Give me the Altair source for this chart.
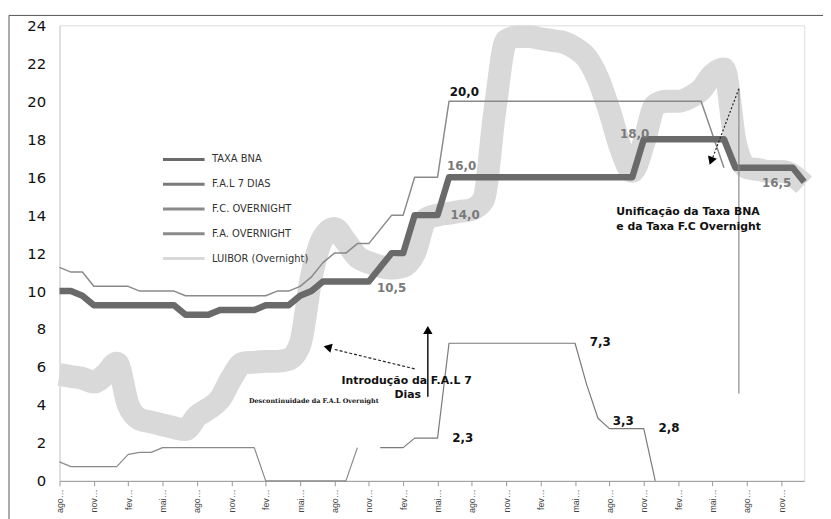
import altair as alt
import pandas as pd

# ---------------- data (monthly, index 0 = ago) ----------------
month_idx = list(range(66))

bna = [10.0, 10.0, 9.75, 9.25, 9.25, 9.25, 9.25, 9.25, 9.25, 9.25,
       9.25, 8.75, 8.75, 8.75, 9.0, 9.0, 9.0, 9.0, 9.25, 9.25,
       9.25, 9.75, 10.0, 10.5, 10.5, 10.5, 10.5, 10.5, 11.25, 12.0,
       12.0, 14.0, 14.0, 14.0, 16.0, 16.0, 16.0, 16.0, 16.0, 16.0,
       16.0, 16.0, 16.0, 16.0, 16.0, 16.0, 16.0, 16.0, 16.0, 16.0,
       16.0, 18.0, 18.0, 18.0, 18.0, 18.0, 18.0, 18.0, 18.0, 16.5,
       16.5, 16.5, 16.5, 16.5, 16.5, 15.75]

fc_idx = list(range(57)) + [58]
fc = [11.25, 11.0, 11.0, 10.25, 10.25, 10.25, 10.25, 10.0, 10.0, 10.0,
      10.0, 9.75, 9.75, 9.75, 9.75, 9.75, 9.75, 9.75, 9.75, 10.0,
      10.0, 10.25, 10.75, 11.5, 12.0, 12.0, 12.5, 12.5, 13.25, 14.0,
      14.0, 16.0, 16.0, 16.0, 20.0, 20.0, 20.0, 20.0, 20.0, 20.0,
      20.0, 20.0, 20.0, 20.0, 20.0, 20.0, 20.0, 20.0, 20.0, 20.0,
      20.0, 20.0, 20.0, 20.0, 20.0, 20.0, 20.0, 16.5]

fa_idx = list(range(27))
fa = [1.0, 0.75, 0.75, 0.75, 0.75, 0.75, 1.4, 1.5, 1.5, 1.75,
      1.75, 1.75, 1.75, 1.75, 1.75, 1.75, 1.75, 1.75, 0.0, 0.0,
      0.0, 0.0, 0.0, 0.0, 0.0, 0.0, 1.75]

fal_idx = list(range(28, 53))
fal = [1.75, 1.75, 1.75, 2.25, 2.25, 2.25, 7.25, 7.25, 7.25, 7.25,
       7.25, 7.25, 7.25, 7.25, 7.25, 7.25, 7.25, 7.25, 5.1, 3.3,
       2.75, 2.75, 2.75, 2.75, 0.0]

luibor = [5.6, 5.5, 5.4, 5.2, 5.6, 6.2, 4.0, 3.25, 3.1, 2.95,
          2.8, 2.7, 3.4, 3.8, 4.3, 5.4, 6.2, 6.25, 6.3, 6.3,
          6.4, 7.2, 10.8, 12.8, 13.3, 12.6, 11.8, 11.5, 11.3, 11.2,
          11.3, 12.0, 13.8, 14.0, 14.1, 14.2, 14.3, 14.8, 19.5, 23.2,
          23.4, 23.4, 23.3, 23.2, 23.1, 22.8, 22.3, 21.2, 19.5, 17.5,
          16.3, 17.8, 19.8, 20.0, 20.0, 20.2, 20.6, 21.4, 21.7, 17.8,
          16.5, 16.4, 16.3, 16.3, 16.1, 15.6]

series_names = ["TAXA BNA", "F.A.L 7 DIAS", "F.C. OVERNIGHT", "F.A. OVERNIGHT", "LUIBOR (Overnight)"]
series_colors = ["#6a6a6a", "#7a7a7a", "#8a8a8a", "#8a8a8a", "#d9d9d9"]

tick_months = ["ago", "nov", "fev", "mai"]

# annotations
grey_lbl_text = ["16,0", "14,0", "10,5", "18,0", "16,5"]
grey_lbl_x = [35.1, 35.4, 29.0, 50.2, 62.6]
grey_lbl_y = [16.6, 14.0, 10.17, 18.26, 15.7]

black_lbl_text = ["20,0", "7,3", "3,3", "2,8", "2,3"]
black_lbl_x = [35.35, 47.2, 49.2, 53.2, 35.2]
black_lbl_y = [20.5, 7.3, 3.13, 2.76, 2.24]

intro_text = ["Introdução da F.A.L 7", "Dias"]
intro_x = [30.3, 30.4]
intro_y = [5.27, 4.54]

unif_text = ["Unificação da Taxa BNA", "e da Taxa F.C Overnight"]
unif_x = [48.6, 48.6]
unif_y = [14.14, 13.4]

disc_text = ["Descontinuidade da F.A.L Overnight"]
disc_x = [22.2]
disc_y = [4.23]

# arrows: solid vertical, dashed, grey vertical, dotted
arrow_x = [32.15, 31.0, 59.3, 59.3]
arrow_y = [4.43, 5.9, 4.6, 20.66]
arrow_x2 = [32.15, 23.9, 59.3, 57.0]
arrow_y2 = [7.9, 6.94, 20.66, 17.0]
head_x = [32.15, 23.4, 56.87]
head_y = [7.95, 7.04, 16.85]
head_angle = [0, 284, 200]

# ---------------- build tables ----------------
rows = []
for i, v in zip(month_idx, luibor):
    rows.append({"idx": i, "val": v, "serie": "LUIBOR (Overnight)"})
for i, v in zip(fc_idx, fc):
    rows.append({"idx": i, "val": v, "serie": "F.C. OVERNIGHT"})
for i, v in zip(fa_idx, fa):
    rows.append({"idx": i, "val": v, "serie": "F.A. OVERNIGHT"})
for i, v in zip(fal_idx, fal):
    rows.append({"idx": i, "val": v, "serie": "F.A.L 7 DIAS"})
for i, v in zip(month_idx, bna):
    rows.append({"idx": i, "val": v, "serie": "TAXA BNA"})
df = pd.DataFrame(rows)

xscale = alt.Scale(domain=[0, 65], nice=False, zero=False)
yscale = alt.Scale(domain=[0, 24], nice=False)
label_expr = "[" + ",".join("'%s'" % m for m in tick_months) + "][(datum.value/3)%4] + '…'"
xaxis = alt.Axis(values=list(range(0, 64, 3)), labelExpr=label_expr, labelAngle=270,
                 labelAlign="right", labelBaseline="middle", labelFontSize=9,
                 labelFont="Liberation Sans", labelColor="#444", labelPadding=3,
                 tickColor="#999", tickSize=5, domainColor="#999", grid=False, title=None)
yaxis = alt.Axis(values=list(range(0, 25, 2)), labelFontSize=15, labelFont="DejaVu Sans",
                 labelColor="#111", ticks=False, labelPadding=14, domainColor="#d0d0d0",
                 grid=False, title=None)


def X(f):
    return alt.X(f, scale=xscale, axis=xaxis)


def Y(f):
    return alt.Y(f, scale=yscale, axis=yaxis)


legend = alt.Legend(orient="none", legendX=116.5, legendY=126.5, title=None,
                    symbolType="M-2.8,0H2.8", symbolSize=225, symbolStrokeWidth=3,
                    labelFontSize=10, labelFont="DejaVu Sans", labelColor="#333",
                    labelOffset=19.5, rowPadding=10)
color = alt.Color("serie:N", scale=alt.Scale(domain=series_names, range=series_colors), legend=legend)

base = alt.Chart(df)


def line(name, width, interp="linear"):
    return base.transform_filter(alt.datum.serie == name).mark_line(
        strokeWidth=width, interpolate=interp, strokeJoin="round").encode(
        x=X("idx:Q"), y=Y("val:Q"), color=color, order="idx:Q")


l_luibor = line("LUIBOR (Overnight)", 23, "monotone")
l_fc = line("F.C. OVERNIGHT", 1.5)
l_fa = line("F.A. OVERNIGHT", 1.2)
l_fal = line("F.A.L 7 DIAS", 1.2)
l_bna = line("TAXA BNA", 6.5)

grey_df = pd.DataFrame({"idx": grey_lbl_x, "val": grey_lbl_y, "t": grey_lbl_text})
black_df = pd.DataFrame({"idx": black_lbl_x, "val": black_lbl_y, "t": black_lbl_text})
intro_df = pd.DataFrame({"idx": intro_x, "val": intro_y, "t": intro_text})
unif_df = pd.DataFrame({"idx": unif_x, "val": unif_y, "t": unif_text})
disc_df = pd.DataFrame({"idx": disc_x, "val": disc_y, "t": disc_text})

t_grey = alt.Chart(grey_df).mark_text(font="DejaVu Sans", fontWeight="bold", fontSize=12,
                                      color="#7a7a7a", baseline="middle").encode(
    x=X("idx:Q"), y=Y("val:Q"), text="t:N")
t_black = alt.Chart(black_df).mark_text(font="DejaVu Sans", fontWeight="bold", fontSize=12,
                                        color="#111", baseline="middle").encode(
    x=X("idx:Q"), y=Y("val:Q"), text="t:N")
t_intro = alt.Chart(intro_df).mark_text(font="DejaVu Sans", fontWeight="bold", fontSize=11,
                                        color="#111", baseline="middle").encode(
    x=X("idx:Q"), y=Y("val:Q"), text="t:N")
t_unif = alt.Chart(unif_df).mark_text(font="DejaVu Sans", fontWeight="bold", fontSize=11,
                                      color="#111", baseline="middle", align="left").encode(
    x=X("idx:Q"), y=Y("val:Q"), text="t:N")
t_disc = alt.Chart(disc_df).mark_text(font="DejaVu Serif", fontWeight="bold", fontSize=6.5,
                                      color="#111", baseline="middle").encode(
    x=X("idx:Q"), y=Y("val:Q"), text="t:N")

arr_df = pd.DataFrame({"idx": arrow_x, "val": arrow_y, "x2": arrow_x2, "y2": arrow_y2,
                       "k": ["solid", "dashed", "grey", "dotted"]})
r_solid = alt.Chart(arr_df).transform_filter(alt.datum.k == "solid").mark_rule(
    color="#111", strokeWidth=1.5).encode(x=X("idx:Q"), y=Y("val:Q"), x2="x2:Q", y2="y2:Q")
r_dashed = alt.Chart(arr_df).transform_filter(alt.datum.k == "dashed").mark_rule(
    color="#222", strokeWidth=1.2, strokeDash=[3, 2]).encode(x=X("idx:Q"), y=Y("val:Q"), x2="x2:Q", y2="y2:Q")
r_grey = alt.Chart(arr_df).transform_filter(alt.datum.k == "grey").mark_rule(
    color="#8a8a8a", strokeWidth=1.2).encode(x=X("idx:Q"), y=Y("val:Q"), x2="x2:Q", y2="y2:Q")
r_dotted = alt.Chart(arr_df).transform_filter(alt.datum.k == "dotted").mark_rule(
    color="#222", strokeWidth=1.2, strokeDash=[2, 2]).encode(x=X("idx:Q"), y=Y("val:Q"), x2="x2:Q", y2="y2:Q")

head_df = pd.DataFrame({"idx": head_x, "val": head_y, "a": head_angle})
heads = alt.Chart(head_df).mark_point(shape="triangle-up", filled=True, color="#000",
                                      size=90, opacity=1).encode(
    x=X("idx:Q"), y=Y("val:Q"), angle=alt.Angle("a:Q", scale=None))

frame_df = pd.DataFrame({"a": [0]})
frame_top = alt.Chart(frame_df).mark_rule(color="#555", strokeWidth=1).encode(
    x=alt.value(-51), x2=alt.value(771), y=alt.value(-10))
frame_left = alt.Chart(frame_df).mark_rule(color="#555", strokeWidth=1).encode(
    x=alt.value(-51), y=alt.value(-10), y2=alt.value(500))

chart = alt.layer(
    l_luibor, l_fc, l_fa, l_fal, l_bna,
    r_grey, r_solid, r_dashed, r_dotted, heads,
    t_grey, t_black, t_intro, t_unif, t_disc,
    frame_top, frame_left,
).properties(
    width=752, height=460,
    autosize=alt.AutoSizeParams(type="none"),
    padding={"left": 52, "top": 15, "right": 19, "bottom": 36},
).configure_view(stroke=None).configure(background="white")

chart.save("out.html", embed_options={"renderer": "svg", "actions": False})
